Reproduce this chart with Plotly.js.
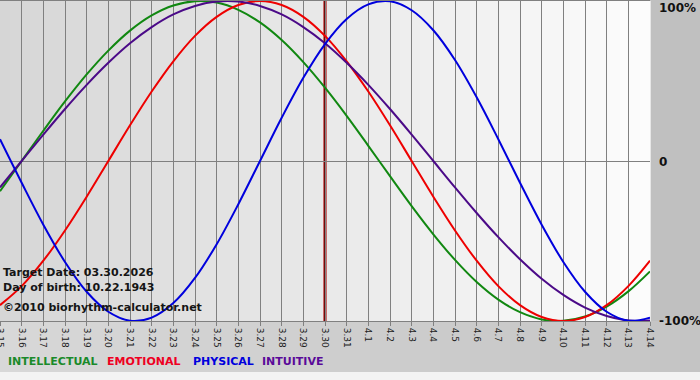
<!DOCTYPE html>
<html>
<head>
<meta charset="utf-8">
<script src="https://cdn.plot.ly/plotly-3.0.1.min.js"></script>
<style>
html,body{margin:0;padding:0;background:#c0c0c0;}
#chart{width:700px;height:380px;}
</style>
</head>
<body>
<div id="chart"></div>
<script>
// ---- data ----
const dates = ["3.15","3.16","3.17","3.18","3.19","3.20","3.21","3.22","3.23","3.24","3.25","3.26","3.27","3.28","3.29","3.30","3.31",
               "4.1","4.2","4.3","4.4","4.5","4.6","4.7","4.8","4.9","4.10","4.11","4.12","4.13","4.14"];
const intellectual = [-0.189,0.000,0.189,0.372,0.541,0.690,0.815,0.910,0.972,0.999,0.990,0.945,0.866,0.756,0.618,0.458,0.282,
                      0.095,-0.095,-0.282,-0.458,-0.618,-0.756,-0.866,-0.945,-0.990,-0.999,-0.972,-0.910,-0.815,-0.690];
const emotional = [-0.901,-0.782,-0.623,-0.434,-0.223,0.000,0.223,0.434,0.623,0.782,0.901,0.975,1.000,0.975,0.901,0.782,0.623,
                   0.434,0.223,0.000,-0.223,-0.434,-0.623,-0.782,-0.901,-0.975,-1.000,-0.975,-0.901,-0.782,-0.623];
const physical = [0.136,-0.136,-0.398,-0.631,-0.817,-0.942,-0.998,-0.979,-0.888,-0.731,-0.520,-0.270,0.000,0.270,0.520,0.731,0.888,
                  0.979,0.998,0.942,0.817,0.631,0.398,0.136,-0.136,-0.398,-0.631,-0.817,-0.942,-0.998,-0.979];
const intuitive = [-0.165,0.000,0.165,0.325,0.476,0.614,0.736,0.837,0.916,0.969,0.997,0.997,0.969,0.916,0.837,0.736,0.614,
                   0.476,0.325,0.165,0.000,-0.165,-0.325,-0.476,-0.614,-0.736,-0.837,-0.916,-0.969,-0.997,-0.997];
const targetDate = "3.30";
const yTickVals = [-1, 0, 1];
const yTickText = ["-100%", "0", "100%"];
const seriesNames = ["INTELLECTUAL", "EMOTIONAL", "PHYSICAL", "INTUITIVE"];
const infoLines = ["Target Date: 03.30.2026", "Day of birth: 10.22.1943", "\u00a92010 biorhythm-calculator.net"];

// ---- styling ----
const colors = {INTELLECTUAL:"#118811", EMOTIONAL:"#ee0000", PHYSICAL:"#0000dd", INTUITIVE:"#4b0a88"};
const legendColors = {INTELLECTUAL:"#1a8a2a", EMOTIONAL:"#ee0022", PHYSICAL:"#0000dd", INTUITIVE:"#5a0a99"};
const seriesData = {INTELLECTUAL:intellectual, EMOTIONAL:emotional, PHYSICAL:physical, INTUITIVE:intuitive};

const traces = ["INTELLECTUAL","EMOTIONAL","INTUITIVE","PHYSICAL"].map(n => ({
  type: "scatter", mode: "lines", x: dates, y: seriesData[n], name: n,
  line: {color: colors[n], width: 2, shape: "spline", smoothing: 1},
  hoverinfo: "skip", showlegend: false
}));

const W = 650, H = 320;
const shapes = [];
// plot-area horizontal gradient
const nPlot = 65;
for (let k = 0; k < nPlot; k++) {
  const t = (k + 0.5) / nPlot;
  const c = Math.round(214 + (252 - 214) * t);
  shapes.push({type:"rect", xref:"paper", yref:"paper", x0:k/nPlot, x1:(k+1)/nPlot + 0.001, y0:0, y1:1,
    fillcolor:`rgb(${c},${c},${c})`, line:{width:0}, layer:"below"});
}
// bottom band gradient
const nBot = 70, botW = 700 / W, yBotTop = 0, yBotBottom = -(372 - 321) / H;
for (let k = 0; k < nBot; k++) {
  const t = (k + 0.5) / nBot;
  const c = Math.round(216 + (196 - 216) * t);
  shapes.push({type:"rect", xref:"paper", yref:"paper", x0:k*botW/nBot, x1:(k+1)*botW/nBot + 0.001,
    y0:yBotBottom, y1:yBotTop, fillcolor:`rgb(${c},${c},${c})`, line:{width:0}, layer:"below"});
}
shapes.push({type:"rect", xref:"paper", yref:"paper", x0:0, x1:botW, y0:-(381-321)/H, y1:yBotBottom,
  fillcolor:"#f3f3f3", line:{width:0}, layer:"below"});
// target date line
shapes.push({type:"line", xref:"x", yref:"paper", x0:dates.indexOf(targetDate), x1:dates.indexOf(targetDate), y0:0, y1:1,
  line:{color:"#c04040", width:3.5}, layer:"between"});
shapes.push({type:"line", xref:"x", yref:"paper", x0:dates.indexOf(targetDate), x1:dates.indexOf(targetDate), y0:0, y1:1,
  line:{color:"#6e0a0a", width:2}, layer:"between"});

const annotations = [];
// y labels (right side)
const yLabelPos = {"100%": (321-8)/H, "0": (321-162)/H, "-100%": 0};
yTickText.forEach((t) => {
  annotations.push({xref:"paper", yref:"paper", x:657/W, y:yLabelPos[t], xanchor:"left", yanchor:"middle",
    text:t, showarrow:false, font:{family:"DejaVu Sans", size:12, color:"#111", weight:"bold"}});
});
// info texts
const infoY = [272, 287, 307];
infoLines.forEach((t, i) => {
  annotations.push({xref:"paper", yref:"paper", x:1/W, y:(321-infoY[i])/H, xanchor:"left", yanchor:"middle",
    text:"<b>"+t+"</b>", showarrow:false, font:{family:"DejaVu Sans", size:11, color:"#151515"}});
});
// legend words
const legendX = [6, 105, 191, 260];
seriesNames.forEach((n, i) => {
  annotations.push({xref:"paper", yref:"paper", x:legendX[i]/W, y:(321-361)/H, xanchor:"left", yanchor:"middle",
    text:"<b>"+n+"</b>", showarrow:false, font:{family:"DejaVu Sans", size:11, color:legendColors[n]}});
});

const layout = {
  width: 700, height: 380,
  margin: {l:0, r:50, t:1, b:59, pad:0},
  paper_bgcolor: "#c0c0c0",
  plot_bgcolor: "rgba(0,0,0,0)",
  showlegend: false,
  xaxis: {
    type: "category", range: [0, dates.length - 1],
    tickvals: dates, ticktext: dates, tickangle: 90,
    showgrid: true, gridcolor: "#808080", gridwidth: 1,
    showline: true, linecolor: "#808080", linewidth: 1, mirror: true,
    ticks: "outside", ticklen: 4, tickcolor: "#808080",
    tickfont: {family: "DejaVu Sans", size: 9, color: "#222"},
    fixedrange: true, zeroline: false
  },
  yaxis: {
    range: [-1, 1], side: "right",
    tickvals: yTickVals, ticktext: yTickText, showticklabels: false,
    showgrid: true, gridcolor: "#808080", gridwidth: 1,
    zeroline: false, showline: false, ticks: "", fixedrange: true
  },
  shapes: shapes,
  annotations: annotations
};

Plotly.newPlot("chart", traces, layout, {displayModeBar: false, staticPlot: true});
</script>
</body>
</html>
